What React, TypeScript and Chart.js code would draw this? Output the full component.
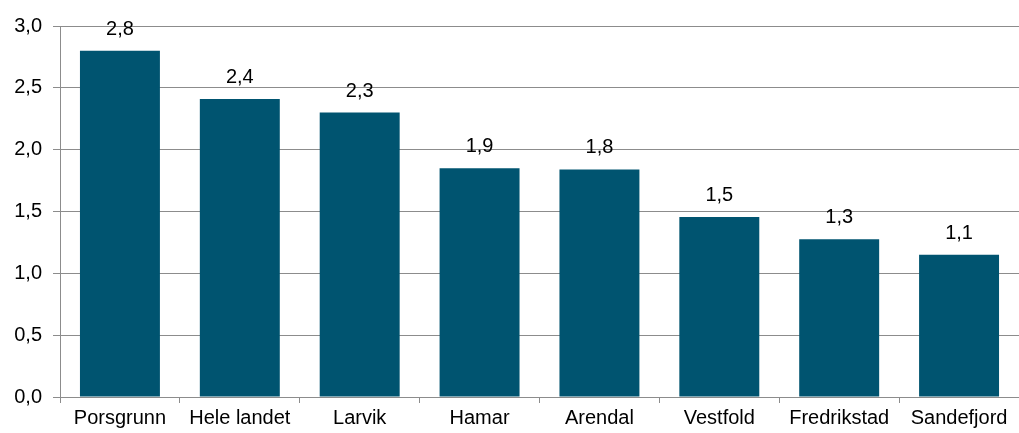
import React, { useEffect, useRef } from "react";
import { Chart, registerables } from "chart.js";

Chart.register(...registerables);

const categories = ["Porsgrunn", "Hele landet", "Larvik", "Hamar", "Arendal", "Vestfold", "Fredrikstad", "Sandefjord"];
const values = [2.8, 2.41, 2.3, 1.85, 1.84, 1.455, 1.275, 1.15];
const valueLabels = ["2,8", "2,4", "2,3", "1,9", "1,8", "1,5", "1,3", "1,1"];
const yTicks = [0, 0.5, 1, 1.5, 2, 2.5, 3];

const FONT = "'Liberation Sans', Arial, sans-serif";
const FONT_SIZE = 20;

export default function App() {
  const ref = useRef<HTMLCanvasElement | null>(null);
  useEffect(() => {
    const canvas = ref.current;
    if (!canvas) return;
    const labelPlugin = {
      id: "valueLabels",
      afterDatasetsDraw(chart: any) {
        const ctx = chart.ctx;
        const meta = chart.getDatasetMeta(0);
        ctx.save();
        ctx.font = `${FONT_SIZE}px ${FONT}`;
        ctx.fillStyle = "#000";
        ctx.textAlign = "center";
        ctx.textBaseline = "alphabetic";
        meta.data.forEach((bar: any, i: number) => {
          ctx.fillText(valueLabels[i], bar.x, bar.y - 16);
        });
        ctx.restore();
      },
    };
    const chart = new Chart(canvas, {
      type: "bar",
      data: {
        labels: categories,
        datasets: [
          {
            data: values,
            backgroundColor: "#005470",
            borderWidth: 0,
            categoryPercentage: 1,
            barPercentage: 0.667,
          },
        ],
      },
      options: {
        animation: false,
        responsive: false,
        maintainAspectRatio: false,
        devicePixelRatio: 1,
        layout: { padding: { top: 26, left: 0, right: 0, bottom: 0 } },
        plugins: { legend: { display: false }, tooltip: { enabled: false } },
        scales: {
          x: {
            afterFit(scale: any) {
              scale.height = 36;
            },
            grid: {
              offset: true,
              drawOnChartArea: false,
              drawTicks: true,
              tickLength: 6,
              color: "#8c8c8c",
            },
            border: { display: true, color: "#8c8c8c", width: 1 },
            ticks: {
              color: "#000",
              font: { family: FONT, size: FONT_SIZE },
              padding: 3,
              maxRotation: 0,
              autoSkip: false,
            },
          },
          y: {
            min: 0,
            max: 3,
            afterFit(scale: any) {
              scale.width = 60;
            },
            afterBuildTicks(scale: any) {
              scale.ticks = yTicks.map((v) => ({ value: v }));
            },
            grid: {
              color: "#8c8c8c",
              drawTicks: true,
              tickLength: 7,
            },
            border: { display: true, color: "#8c8c8c", width: 1 },
            ticks: {
              color: "#000",
              font: { family: FONT, size: FONT_SIZE },
              padding: 11,
              callback: (v: any) => Number(v).toFixed(1).replace(".", ","),
            },
          },
        },
      },
      plugins: [labelPlugin],
    });
    return () => chart.destroy();
  }, []);
  return (
    <div style={{ position: "absolute", left: 0, top: 0, width: 1019, height: 433, background: "#fff" }}>
      <canvas ref={ref} width={1019} height={433} style={{ display: "block" }} />
    </div>
  );
}
